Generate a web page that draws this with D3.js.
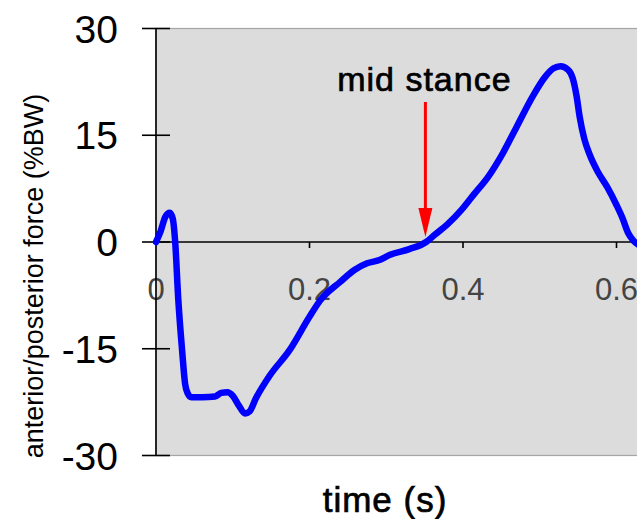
<!DOCTYPE html>
<html>
<head>
<meta charset="utf-8">
<script src="https://cdn.jsdelivr.net/npm/d3@7"></script>
<style>
  html, body { margin: 0; padding: 0; background: #ffffff; }
  svg { display: block; }
  text { font-family: Arial, "Liberation Sans", sans-serif; }
</style>
</head>
<body>
<svg id="chart" width="637" height="519"></svg>
<script>
// Anterior/posterior ground reaction force over one stance phase
const timeS = [0.000, 0.006, 0.012, 0.018, 0.022, 0.025, 0.029, 0.034, 0.038, 0.041,
  0.046, 0.060, 0.077, 0.085, 0.093, 0.100, 0.108, 0.116, 0.122, 0.130,
  0.148, 0.174, 0.200, 0.214, 0.240, 0.259, 0.275, 0.292, 0.305, 0.330,
  0.352, 0.362, 0.380, 0.398, 0.415, 0.433, 0.452, 0.470, 0.491, 0.507,
  0.518, 0.527, 0.537, 0.543, 0.548, 0.552, 0.558, 0.565, 0.576, 0.588,
  0.600, 0.608, 0.615, 0.622, 0.630];
const forceBW = [0, 1.5, 3.5, 4.1, 3.2, 0, -8, -15.2, -20, -21.2,
  -21.8, -21.8, -21.7, -21.2, -21.1, -21.6, -23.0, -24.1, -23.8, -22.0,
  -18.8, -15.2, -10.5, -8.2, -5.6, -3.9, -3.0, -2.5, -1.8, -1.0,
  0, 0.9, 2.5, 4.5, 6.8, 9.2, 12.5, 16.2, 20.5, 23.2,
  24.4, 24.7, 24.2, 23.0, 20.5, 17.6, 14.5, 12.3, 9.8, 7.7,
  5.2, 3.3, 1.3, 0.2, -0.5];

const yTicks = [30, 15, 0, -15, -30];
const xTicks = [0, 0.2, 0.4, 0.6];
const xTickLabels = ["0", "0.2", "0.4", "0.6"];
const midStanceTime = 0.351;

const svg = d3.select("#chart");

const x = d3.scaleLinear().domain([0, 0.6]).range([156, 616.5]);
const y = d3.scaleLinear().domain([-30, 30]).range([455.5, 28.5]);

// plot background
svg.append("rect")
  .attr("x", x(0)).attr("y", y(30))
  .attr("width", 637 - x(0) + 2).attr("height", y(-30) - y(30))
  .attr("fill", "#dcdcdc")
  .attr("stroke", "#a6a6a6").attr("stroke-width", 1.2);

// horizontal zero axis with downward ticks
svg.append("line")
  .attr("x1", x(0)).attr("x2", 637)
  .attr("y1", y(0)).attr("y2", y(0))
  .attr("stroke", "#000").attr("stroke-width", 1.6);

svg.selectAll(".xtick").data(xTicks.slice(1)).enter().append("line")
  .attr("x1", d => x(d)).attr("x2", d => x(d))
  .attr("y1", y(0)).attr("y2", y(0) + 6)
  .attr("stroke", "#000").attr("stroke-width", 1.6);

svg.selectAll(".xlab").data(xTicks).enter().append("text")
  .attr("x", d => x(d)).attr("y", y(0) + 58)
  .attr("text-anchor", "middle")
  .attr("font-size", 31)
  .attr("fill", "#444")
  .text((d, i) => xTickLabels[i]);

// vertical axis
svg.append("line")
  .attr("x1", x(0)).attr("x2", x(0))
  .attr("y1", y(30)).attr("y2", y(-30))
  .attr("stroke", "#000").attr("stroke-width", 1.6);

svg.selectAll(".ytick").data(yTicks).enter().append("line")
  .attr("x1", x(0) - 14).attr("x2", x(0) + 14)
  .attr("y1", d => y(d)).attr("y2", d => y(d))
  .attr("stroke", "#000").attr("stroke-width", 1.6);

svg.selectAll(".ylab").data(yTicks).enter().append("text")
  .attr("x", 118).attr("y", d => y(d) + 14)
  .attr("text-anchor", "end")
  .attr("font-size", 39)
  .attr("fill", "#000")
  .text(d => d);

// force curve
const pts = timeS.map((t, i) => [t, forceBW[i]]);
const line = d3.line()
  .x(d => x(d[0])).y(d => y(d[1]))
  .curve(d3.curveMonotoneX);

svg.append("path")
  .datum(pts)
  .attr("d", line)
  .attr("fill", "none")
  .attr("stroke", "#0000ff")
  .attr("stroke-width", 6.5)
  .attr("stroke-linejoin", "round")
  .attr("stroke-linecap", "round");

// mid stance annotation
const ax = x(midStanceTime);
svg.append("line")
  .attr("x1", ax).attr("x2", ax)
  .attr("y1", 102).attr("y2", 212)
  .attr("stroke", "#ff0000").attr("stroke-width", 3);
svg.append("path")
  .attr("d", `M${ax - 7},208 L${ax + 7},208 L${ax},${y(0) - 5} Z`)
  .attr("fill", "#ff0000");

svg.append("text")
  .attr("x", ax - 1).attr("y", 91)
  .attr("text-anchor", "middle")
  .attr("font-size", 34)
  .attr("letter-spacing", 1)
  .attr("fill", "#000")
  .attr("stroke", "#000").attr("stroke-width", 0.7)
  .text("mid stance");

// axis titles
svg.append("text")
  .attr("x", 385).attr("y", 512)
  .attr("text-anchor", "middle")
  .attr("font-size", 35)
  .attr("letter-spacing", 1)
  .attr("fill", "#000")
  .attr("stroke", "#000").attr("stroke-width", 0.7)
  .text("time (s)");

svg.append("text")
  .attr("transform", "translate(43,276) rotate(-90)")
  .attr("text-anchor", "middle")
  .attr("font-size", 27)
  .attr("fill", "#000")
  .text("anterior/posterior force (%BW)");
</script>
</body>
</html>
